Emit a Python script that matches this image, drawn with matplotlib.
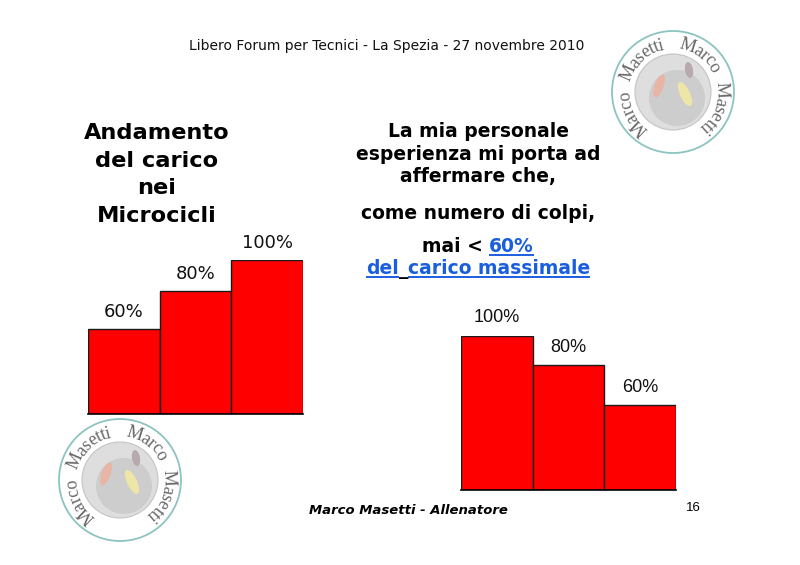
import matplotlib
matplotlib.use('Agg')
import matplotlib.pyplot as plt
from matplotlib.patches import Circle, Ellipse
import numpy as np

# ---------------- data ----------------
left_labels = ['60%', '80%', '100%']
left_heights = [55, 80, 100]
right_labels = ['100%', '80%', '60%']
right_heights = [100, 81, 55]

title = "Libero Forum per Tecnici - La Spezia - 27 novembre 2010"
heading = ["Andamento", "del carico", "nei", "Microcicli"]
body = ["La mia personale", "esperienza mi porta ad", "affermare che,", "come numero di colpi,"]
footer = "Marco Masetti - Allenatore"
page = "16"
logo_text = "Marco Masetti"

W, H = 800, 565
RED = '#ff0000'
BLUE = '#1a5ee0'

fig = plt.figure(figsize=(8, 5.65), dpi=100)
fig.patch.set_facecolor('white')
bg = fig.add_axes([0, 0, 1, 1])
bg.set_xlim(0, W)
bg.set_ylim(H, 0)
bg.axis('off')
fig.canvas.draw()
renderer = fig.canvas.get_renderer()


def measure(s, **kw):
    t = bg.text(0, 0, s, **kw)
    w = t.get_window_extent(renderer).width
    t.remove()
    return w


# ---------------- texts ----------------
bg.text(387, 50, title, fontsize=10, family='DejaVu Sans', ha='center', va='baseline', color='#111111')

for txt, yb in zip(heading, [139, 167, 194, 222]):
    bg.text(157, yb, txt, fontsize=16.2, fontweight='bold', family='DejaVu Sans',
            ha='center', va='baseline', color='black')

for txt, yb in zip(body, [137, 160, 182, 219]):
    bg.text(478, yb, txt, fontsize=13.5, fontweight='bold', family='DejaVu Sans',
            ha='center', va='baseline', color='black')


def rich_line(cx, yb, parts, size=13.5):
    kw = dict(fontsize=size, fontweight='bold', family='DejaVu Sans')
    sp = measure('a a', **kw) - measure('aa', **kw)
    widths = []
    for s, col, ul in parts:
        core = s.rstrip(' ')
        widths.append(measure(core, **kw) + sp * (len(s) - len(core)))
    x = cx - sum(widths) / 2
    for (s, col, ul), w in zip(parts, widths):
        bg.text(x, yb, s.rstrip(' '), color=col, ha='left', va='baseline', **kw)
        if ul:
            bg.plot([x, x + w], [yb + 2.5, yb + 2.5], color=col, lw=1.4, solid_capstyle='butt')
        x += w


rich_line(478, 252, [("mai < ", 'black', False), ("60%", BLUE, True)])
rich_line(478, 274, [("del", BLUE, True), ("_", 'black', False), ("carico massimale", BLUE, True)])

bg.text(408, 514, footer, fontsize=9.5, fontweight='bold', fontstyle='italic',
        family='DejaVu Sans', ha='center', va='baseline', color='black')
bg.text(693, 511, page, fontsize=9.5, family='Liberation Sans', ha='center', va='baseline', color='black')


# ---------------- logos ----------------
def logo(cx, cy, r=61):
    bg.add_patch(Circle((cx, cy), r, fill=False, ec='#8cc4c0', lw=1.3))
    bg.add_patch(Circle((cx, cy), 38, fc='#dedede', ec='#c4c4c4', lw=0.8))
    bg.add_patch(Circle((cx + 4, cy + 6), 28, fc='#cdcdcd', ec='none'))
    bg.add_patch(Ellipse((cx - 14, cy - 6), 9, 24, angle=20, fc='#e8b4a4', ec='none'))
    bg.add_patch(Ellipse((cx + 12, cy + 2), 10, 26, angle=-25, fc='#eee6a6', ec='none'))
    bg.add_patch(Ellipse((cx + 16, cy - 22), 8, 16, angle=-10, fc='#b8a8b0', ec='none'))
    kw = dict(fontsize=13, family='Liberation Serif', color='#686868')
    rt = 48
    for start in (236, 82):
        ang = start
        for ch in logo_text:
            w = measure('n' if ch == ' ' else ch, **kw)
            if ch == ' ':
                w *= 1.3
            da = np.degrees(w / rt)
            a = ang - da / 2
            if ch != ' ':
                x = cx + rt * np.cos(np.radians(a))
                y = cy - rt * np.sin(np.radians(a))
                bg.text(x, y, ch, rotation=a - 90, rotation_mode='anchor',
                        ha='center', va='center', **kw)
            ang -= da


logo(673, 92)
logo(120, 480)


# ---------------- bar charts ----------------
def bar_chart(rect, heights, labels, family, size, offset):
    ax = fig.add_axes(rect)
    x = np.arange(len(heights))
    ax.bar(x, heights, width=1.0, color=RED, edgecolor='#1a1a1a', linewidth=1.0)
    ax.set_xlim(-0.5, len(heights) - 0.5)
    ax.set_ylim(0, 100)
    for xi, h, lab in zip(x, heights, labels):
        ax.annotate(lab, (xi, h), xytext=(0, offset), textcoords='offset pixels',
                    ha='center', va='center', fontsize=size, family=family, color='#111111')
    for s in ['top', 'right', 'left']:
        ax.spines[s].set_visible(False)
    ax.spines['bottom'].set_color('black')
    ax.spines['bottom'].set_linewidth(1.2)
    ax.set_xticks([])
    ax.set_yticks([])
    ax.patch.set_alpha(0)
    return ax


bar_chart([88 / W, (H - 414) / H, 215 / W, 154 / H], left_heights, left_labels,
          'DejaVu Sans', 13, 17)
bar_chart([461 / W, (H - 490) / H, 215 / W, 154 / H], right_heights, right_labels,
          'Liberation Sans', 13, 18)

fig.savefig('out.png', dpi=100, facecolor='white')
